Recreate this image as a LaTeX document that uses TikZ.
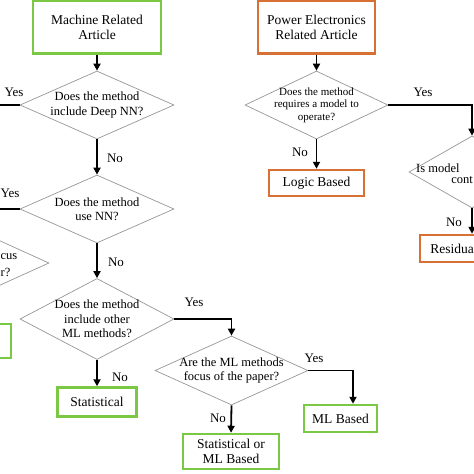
\documentclass[tikz,border=0pt]{standalone}
\usepackage{fontspec}
\setmainfont{Liberation Serif}
\usetikzlibrary{shapes.geometric,arrows.meta}
\definecolor{boxgreen}{RGB}{122,200,68}
\definecolor{boxorange}{RGB}{214,112,52}
\definecolor{diagray}{RGB}{150,150,150}
\begin{document}
\begin{tikzpicture}[x=1pt,y=-1pt,
  gbox/.style={draw=boxgreen, line width=2.5pt, inner sep=0pt, align=center, font=\fontsize{13.5}{15}\selectfont},
  obox/.style={gbox, draw=boxorange},
  dia/.style={draw=diagray, line width=.7pt, diamond, inner sep=0pt},
  qtext/.style={align=center, inner sep=0pt, font=\fontsize{12.5}{14.5}\selectfont},
  lab/.style={inner sep=0pt, font=\fontsize{13}{14}\selectfont},
  con/.style={line width=1.8pt, -{Triangle[length=7pt,width=7pt]}},
  lin/.style={line width=1.8pt}]
\useasboundingbox (0,0) rectangle (474,474);
\clip (0,0) rectangle (474,474);
\node (mach) at (97,27) [gbox, minimum width=128pt, minimum height=53pt] {Machine Related\\Article};
\node (q1) at (97,105) [dia, minimum width=154pt, minimum height=68pt] {};
\node (q1t) at (q1) [qtext] {Does the method\\include Deep NN?};
\node (q2) at (97,209) [dia, minimum width=154pt, minimum height=68pt] {};
\node (q2t) at (q2) [qtext] {Does the method\\use NN?};
\node (q3) at (97,319) [dia, minimum width=154pt, minimum height=81pt] {};
\node (q3t) at (q3) [qtext] {Does the method\\include other\\ML methods?};
\node (stat) at (97,402) [gbox, minimum width=79pt, minimum height=29pt] {Statistical};
\node (q4) at (231.5,370.5) [dia, minimum width=153pt, minimum height=69pt] {};
\node (q4t) at (q4) [qtext] {Are the ML methods\\focus of the paper?};
\node (mlb) at (340.5,418.5) [gbox, minimum width=73pt, minimum height=27pt] {ML Based};
\node (smlb) at (231,451.5) [gbox, minimum width=96pt, minimum height=35pt] {Statistical or\\ML Based};
\node (q7) at (-28,263) [dia, minimum width=154pt, minimum height=70pt] {};
\node (q7t1) at (0.5,257) [qtext, anchor=west] {cus};
\node (q7t2) at (0.5,272) [qtext, anchor=west] {r?};
\node (lbox) at (-30,341) [gbox, minimum width=82pt, minimum height=34pt] {};
\coordinate (off1) at (-5,105);
\coordinate (off2) at (-5,209);
\node (pow) at (316.5,27) [obox, minimum width=117pt, minimum height=53pt] {Power Electronics\\Related Article};
\node (q5) at (316.5,105) [dia, minimum width=143pt, minimum height=68pt] {};
\node (q5t) at (q5) [qtext, font=\fontsize{11}{12.5}\selectfont] {Does the method\\requires a model to\\operate?};
\node (logic) at (316.5,183) [obox, minimum width=95pt, minimum height=26pt] {Logic Based};
\node (q6) at (472,172) [dia, minimum width=126pt, minimum height=72pt] {};
\node (q6t1) at (416,168) [qtext, anchor=west] {Is model};
\node (q6t2) at (473,180) [qtext, anchor=east] {cont};
\node (res) at (472,248.5) [obox, minimum width=104pt, minimum height=27pt] {};
\node (rest) at (429,248.5) [gbox, draw=none, anchor=west] {Residua};
\draw[con] (mach.south) -- (q1.north);
\draw[con] (q1.south) -- (q2.north);
\draw[con] (q2.south) -- (q3.north);
\draw[con] (q3.south) -- (stat.north);
\draw[con] (q3.east) -| (q4.north);
\draw[con] (q4.south) -- (smlb.north);
\draw[con] (q4.east) -| ([xshift=12.5pt]mlb.north);
\draw[lin] (q1.west) -- (off1);
\draw[lin] (q2.west) -- (off2);
\draw[con] (pow.south) -- (q5.north);
\draw[con] (q5.south) -- (logic.north);
\draw[con] (q5.east) -| (q6.north);
\draw[con] (q6.south) -- (res.north);
\node (yes1) at (14,92) [lab] {Yes};
\node (yes2) at (10,193) [lab] {Yes};
\node (no1) at (115,158) [lab] {No};
\node (no2) at (116,262) [lab] {No};
\node (yes3) at (194,302) [lab] {Yes};
\node (no3) at (120,377) [lab] {No};
\node (yes4) at (314,358) [lab] {Yes};
\node (no4) at (218,418) [lab] {No};
\node (yes5) at (423,92) [lab] {Yes};
\node (no5) at (300,152) [lab] {No};
\node (no6) at (454,222) [lab] {No};
\end{tikzpicture}
\end{document}
